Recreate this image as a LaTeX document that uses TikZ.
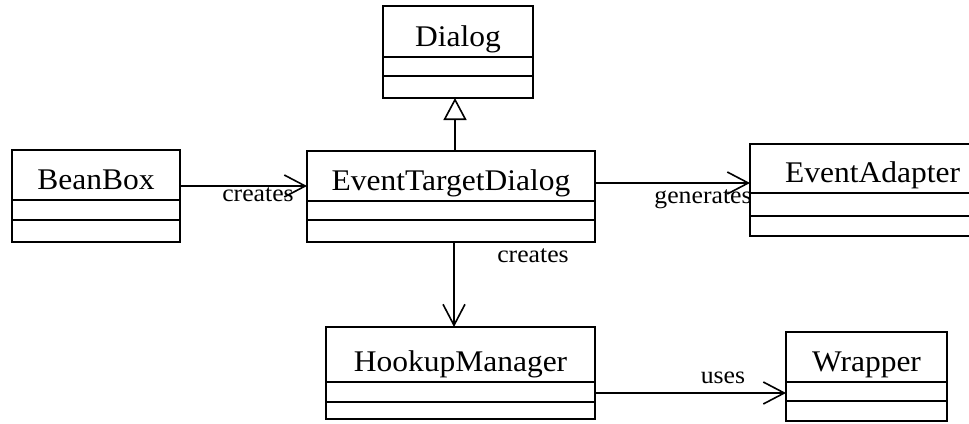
\documentclass[tikz,border=0pt]{standalone}
\usepackage{fontspec}
\setmainfont{Liberation Serif}
\newfontfamily\umlfont[FakeStretch=1.05]{Liberation Serif}
\usetikzlibrary{arrows.meta}

\tikzset{
  classbox/.style={draw, line width=1.6pt, inner sep=0pt, outer sep=0pt},
  compartment/.style={line width=1.6pt},
  classname/.style={anchor=base, inner sep=0pt, font=\umlfont\fontsize{30}{32}\selectfont},
  rolelabel/.style={anchor=base, inner sep=0pt, font=\umlfont\fontsize{24.5}{26}\selectfont},
  assoc/.style={line width=1.6pt, -{Straight Barb[length=21pt,width=22pt,line width=1.6pt]}},
  inherit/.style={line width=1.6pt, -{Triangle[open,length=22pt,width=23pt,line width=1.6pt,fill=white]}},
}

% #1 name, #2..#5 left/top/right/bottom, #6 #7 compartment lines, #8 class name
\newcommand\umlclass[8]{%
  \node[classbox, minimum width={#4-#2}, minimum height={#5-#3}]
    (#1) at ({(#2+#4)/2},{(#3+#5)/2}) {};
  \draw[compartment] (#1.west |- 0,#6) -- (#1.east |- 0,#6);
  \draw[compartment] (#1.west |- 0,#7) -- (#1.east |- 0,#7);
  \node[classname] (#1-title) at ({(#2+#4)/2},{#6-11}) {#8};
}

\begin{document}
\begin{tikzpicture}[x=1pt, y=-1pt]
  \useasboundingbox (0,0) rectangle (969,423);
  \clip (0,0) rectangle (969,423);

  % classes
  \umlclass{dialog}{383}{6}{533}{98}{57}{76}{Dialog}
  \umlclass{bean}{12}{150}{180}{242}{200}{220}{BeanBox}
  \umlclass{etd}{307}{151}{595}{242}{201}{220}{EventTargetDialog}
  \umlclass{adapter}{750}{144}{995}{236}{193}{216}{EventAdapter}
  \umlclass{hookup}{326}{327}{595}{419}{382}{402}{HookupManager}
  \umlclass{wrapper}{786}{332}{947}{421}{382}{401}{Wrapper}

  % generalization
  \draw[inherit] (etd.north -| 455,0) -- (dialog.south -| 455,0);

  % associations
  \draw[assoc] (bean.east |- 0,186) -- (etd.west |- 0,186);
  \draw[assoc] (etd.east |- 0,183) -- (adapter.west |- 0,183);
  \draw[assoc] (etd.south -| 454,0) -- (hookup.north -| 454,0);
  \draw[assoc] (hookup.east |- 0,393) -- (wrapper.west |- 0,393);

  % association labels
  \node[rolelabel] (lbl-creates1) at (258,201) {creates};
  \node[rolelabel] (lbl-generates) at (703,203) {generates};
  \node[rolelabel] (lbl-creates2) at (533,262) {creates};
  \node[rolelabel] (lbl-uses) at (723,383) {uses};
\end{tikzpicture}
\end{document}
